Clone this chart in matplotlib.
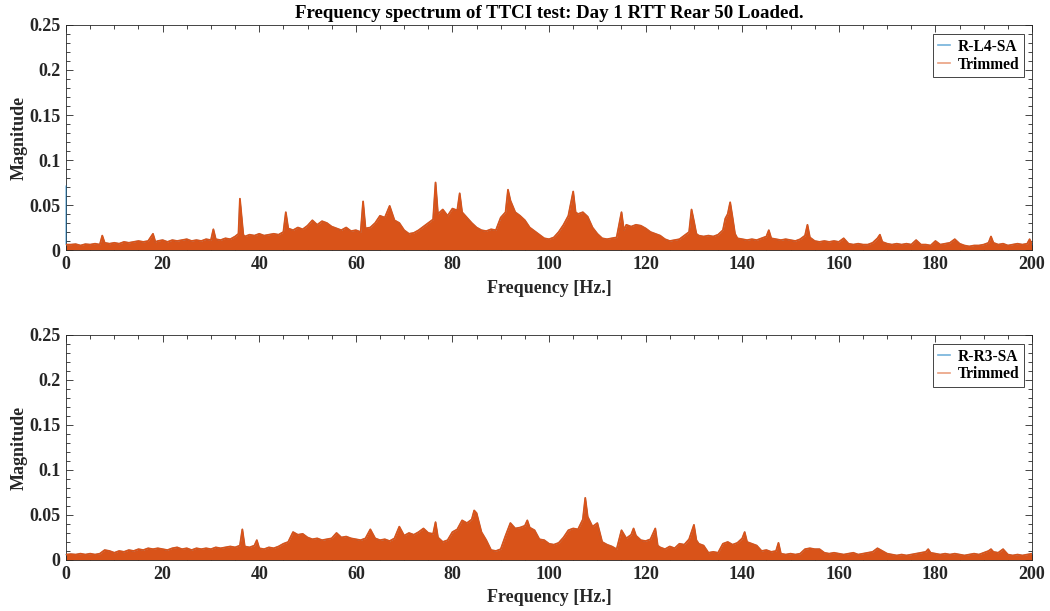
import matplotlib
matplotlib.use("Agg")
import matplotlib.pyplot as plt
from matplotlib.ticker import MultipleLocator

# ---------------- data ----------------
title_text = "Frequency spectrum of TTCI test: Day 1 RTT Rear 50 Loaded."
legend_top = ["R-L4-SA", "Trimmed"]
legend_bot = ["R-R3-SA", "Trimmed"]

top_freq = [0, 1, 2, 3, 4, 5, 6, 7, 7.5, 8, 9, 10, 11, 12, 13, 14, 15, 16, 17, 18, 18.5, 19,
            20, 21, 22, 23, 24, 25, 26, 27, 28, 29, 30, 30.5, 31, 32, 33, 34, 35, 35.7, 36.0,
            36.3, 36.7, 37, 38, 39, 40, 41, 42, 43, 44, 45, 45.5, 46, 47, 48, 49, 50, 51, 52,
            53, 54, 55, 56, 57, 58, 59, 60, 61, 61.5, 62, 63, 64, 65, 66, 67, 68, 69, 70, 71,
            72, 73, 74, 75, 76, 76.5, 77, 78, 79, 80, 81, 81.5, 82, 83, 84, 85, 86, 87, 88, 89,
            90, 91, 91.5, 92, 93, 94, 95, 96, 97, 98, 99, 100, 101, 102, 103, 104, 105, 105.5,
            106, 107, 108, 109, 110, 111, 112, 113, 114, 115, 115.5, 116, 117, 118, 119, 120,
            121, 122, 123, 124, 125, 126, 127, 128, 129, 129.5, 130, 130.5, 131, 132, 133, 134,
            135, 136, 136.5, 137, 137.5, 138, 138.5, 139, 140, 141, 142, 143, 144, 145, 145.5,
            146, 147, 148, 149, 150, 151, 152, 153, 153.5, 154, 155, 156, 157, 158, 159, 160,
            161, 162, 163, 164, 165, 166, 167, 168, 168.5, 169, 170, 171, 172, 173, 174, 175,
            176, 177, 178, 179, 180, 181, 182, 183, 184, 185, 186, 187, 188, 189, 190, 191,
            191.5, 192, 193, 194, 195, 196, 197, 198, 199, 199.5, 200]
top_mag = [0.006, 0.006, 0.0065, 0.005, 0.0065, 0.006, 0.007, 0.006, 0.016, 0.008, 0.007, 0.008,
           0.007, 0.009, 0.008, 0.009, 0.010, 0.009, 0.010, 0.018, 0.009, 0.010,
           0.011, 0.009, 0.011, 0.010, 0.011, 0.012, 0.010, 0.011, 0.010, 0.012, 0.011, 0.023,
           0.012, 0.011, 0.013, 0.012, 0.015, 0.018, 0.057,
           0.040, 0.017, 0.015, 0.017, 0.016, 0.018, 0.016, 0.017, 0.018, 0.017, 0.020, 0.042,
           0.024, 0.022, 0.025, 0.023, 0.027, 0.033, 0.028,
           0.032, 0.030, 0.026, 0.024, 0.022, 0.025, 0.021, 0.022, 0.020, 0.054, 0.024, 0.025,
           0.030, 0.038, 0.036, 0.049, 0.033, 0.030, 0.022, 0.018,
           0.019, 0.022, 0.026, 0.030, 0.034, 0.075, 0.040, 0.045, 0.038, 0.046, 0.044, 0.063,
           0.042, 0.036, 0.030, 0.025, 0.022, 0.021, 0.023, 0.022,
           0.036, 0.042, 0.067, 0.055, 0.042, 0.038, 0.033, 0.025, 0.021, 0.017, 0.013, 0.012,
           0.014, 0.020, 0.028, 0.038, 0.065, 0.042,
           0.040, 0.042, 0.037, 0.025, 0.018, 0.013, 0.012, 0.013, 0.014, 0.042, 0.022, 0.028,
           0.026, 0.028, 0.027, 0.024,
           0.020, 0.018, 0.016, 0.012, 0.010, 0.011, 0.012, 0.016, 0.020, 0.045, 0.032, 0.018,
           0.016, 0.015, 0.016, 0.015,
           0.017, 0.022, 0.035, 0.040, 0.053, 0.036, 0.018, 0.013, 0.012, 0.011, 0.012, 0.011,
           0.013, 0.015, 0.022,
           0.013, 0.012, 0.011, 0.012, 0.011, 0.010, 0.012, 0.016, 0.028, 0.014, 0.010, 0.009,
           0.010, 0.009, 0.010, 0.009,
           0.013, 0.007, 0.006, 0.007, 0.006, 0.006, 0.008, 0.013, 0.017, 0.009, 0.007, 0.006,
           0.007, 0.006, 0.007, 0.006,
           0.011, 0.006, 0.006, 0.005, 0.010, 0.006, 0.007, 0.008, 0.012, 0.007, 0.005, 0.004,
           0.005, 0.005, 0.006, 0.008,
           0.015, 0.008, 0.006, 0.007, 0.005, 0.006, 0.007, 0.006, 0.007, 0.012, 0.006]
top_raw_dc = 0.071  # DC value of the untrimmed R-L4-SA signal at 0 Hz

bot_freq = [0, 1, 2, 3, 4, 5, 6, 7, 8, 9, 10, 11, 12, 13, 14, 15, 16, 17, 18, 19, 20, 21, 22,
            23, 24, 25, 26, 27, 28, 29, 30, 31, 32, 33, 34, 35, 36, 36.5, 37, 38, 39, 39.5, 40,
            41, 42, 43, 44, 45, 46, 47, 48, 49, 50, 51, 52, 53, 54, 55, 56, 57, 58, 59, 60, 61,
            62, 63, 64, 65, 66, 67, 68, 69, 70, 71, 72, 73, 74, 75, 76, 76.5, 77, 78, 79, 80,
            81, 82, 83, 84, 84.5, 85, 86, 87, 88, 89, 90, 91, 92, 93, 94, 95, 95.5, 96, 97, 98,
            99, 100, 101, 102, 103, 104, 105, 106, 107, 107.5, 108, 109, 110, 111, 112, 113,
            114, 115, 116, 117, 117.5, 118, 119, 120, 121, 122, 122.5, 123, 124, 125, 126, 127,
            128, 129, 130, 130.5, 131, 132, 133, 134, 135, 136, 137, 138, 139, 140, 140.5, 141,
            142, 143, 144, 145, 146, 147, 147.5, 148, 149, 150, 151, 152, 153, 154, 155, 156,
            157, 158, 159, 160, 161, 162, 163, 164, 165, 166, 167, 168, 169, 170, 171, 172, 173,
            174, 175, 176, 177, 178, 178.5, 179, 180, 181, 182, 183, 184, 185, 186, 187, 188,
            189, 190, 191, 191.5, 192, 193, 194, 195, 196, 197, 198, 199, 200]
bot_mag = [0.006, 0.0065, 0.006, 0.007, 0.006, 0.007, 0.006, 0.007, 0.011, 0.010, 0.008, 0.010,
           0.009, 0.011, 0.010, 0.012, 0.011, 0.013, 0.012, 0.013, 0.012, 0.011, 0.013,
           0.014, 0.012, 0.013, 0.011, 0.013, 0.012, 0.013, 0.012, 0.014, 0.013, 0.014, 0.015,
           0.014, 0.016, 0.034, 0.015, 0.014, 0.016, 0.022, 0.013,
           0.012, 0.014, 0.013, 0.015, 0.018, 0.020, 0.031, 0.028, 0.029, 0.025, 0.023, 0.024,
           0.022, 0.023, 0.024, 0.030, 0.025, 0.026, 0.024, 0.023, 0.022,
           0.024, 0.034, 0.024, 0.022, 0.023, 0.021, 0.024, 0.037, 0.027, 0.030, 0.028, 0.031,
           0.035, 0.030, 0.029, 0.042, 0.025, 0.020, 0.022, 0.031,
           0.034, 0.044, 0.041, 0.045, 0.055, 0.052, 0.031, 0.022, 0.011, 0.010, 0.012, 0.027,
           0.041, 0.035, 0.036, 0.038, 0.044, 0.036, 0.033, 0.023,
           0.022, 0.018, 0.017, 0.019, 0.025, 0.033, 0.035, 0.034, 0.045, 0.069, 0.048, 0.037,
           0.041, 0.020, 0.017, 0.015,
           0.012, 0.033, 0.024, 0.028, 0.035, 0.027, 0.022, 0.021, 0.023, 0.035, 0.016, 0.014,
           0.012, 0.015, 0.013, 0.018,
           0.017, 0.023, 0.039, 0.022, 0.018, 0.016, 0.008, 0.009, 0.008, 0.018, 0.020, 0.017,
           0.019, 0.024, 0.031, 0.020,
           0.018, 0.016, 0.010, 0.011, 0.009, 0.010, 0.019, 0.007, 0.006, 0.007, 0.006, 0.007,
           0.012, 0.013, 0.012, 0.012,
           0.008, 0.007, 0.008, 0.007, 0.006, 0.007, 0.008, 0.006, 0.007, 0.008, 0.009, 0.013,
           0.010, 0.007, 0.006, 0.005, 0.006,
           0.005, 0.006, 0.007, 0.008, 0.009, 0.012, 0.008, 0.007, 0.006, 0.007, 0.006, 0.007,
           0.006, 0.005, 0.006, 0.007,
           0.006, 0.008, 0.010, 0.012, 0.009, 0.008, 0.012, 0.006, 0.005, 0.006, 0.005, 0.006,
           0.007]

x_ticks = [0, 20, 40, 60, 80, 100, 120, 140, 160, 180, 200]
y_ticks = [0, 0.05, 0.1, 0.15, 0.2, 0.25]
y_ticklabels = ["0", "0.05", "0.1", "0.15", "0.2", "0.25"]

# ---------------- style ----------------
BLUE = "#0072BD"
ORANGE = "#D95319"
AX = "#262626"
plt.rcParams["font.family"] = ["Liberation Serif", "DejaVu Serif"]
plt.rcParams["font.weight"] = "bold"
plt.rcParams["font.size"] = 13

fig = plt.figure(figsize=(10.5, 6.11), dpi=100)
ax_top = fig.add_axes([0.0629, 0.5908, 0.9200, 0.3683])
ax_bot = fig.add_axes([0.0629, 0.0835, 0.9200, 0.3683])


def style(ax):
    ax.set_xlim(0, 200)
    ax.set_ylim(0, 0.25)
    ax.set_xticks(x_ticks)
    ax.set_xticklabels([str(t) for t in x_ticks], fontweight="bold", color=AX)
    ax.set_yticks(y_ticks)
    ax.set_yticklabels(y_ticklabels, fontweight="bold", color=AX)
    ax.xaxis.set_minor_locator(MultipleLocator(5))
    ax.yaxis.set_minor_locator(MultipleLocator(0.01))
    ax.tick_params(which="both", direction="in", top=True, right=True, color=AX, width=0.6)
    ax.tick_params(which="major", length=5, pad=4)
    ax.tick_params(which="minor", length=3)
    for s in ax.spines.values():
        s.set_color(AX)
        s.set_linewidth(0.6)
    ax.set_xlabel("Frequency [Hz.]", fontweight="bold", color=AX, labelpad=5)
    ax.set_ylabel("Magnitude", fontweight="bold", color=AX, labelpad=1)


def draw(ax, raw_f, raw_m, f, m, labels):
    ax.plot(raw_f, raw_m, color=BLUE, lw=0.9, label=labels[0], zorder=4, clip_on=False,
            alpha=0.6)
    ax.fill_between(f, 0, m, color=ORANGE, lw=0, zorder=2)
    ax.plot(f, m, color=ORANGE, lw=1.3, label=labels[1], zorder=5)


# top panel
draw(ax_top, [0] + top_freq, [top_raw_dc] + top_mag, top_freq, top_mag, legend_top)
style(ax_top)
title = ax_top.set_title(title_text, fontweight="bold", color="black", fontsize=13, pad=5)

# bottom panel
draw(ax_bot, bot_freq, bot_mag, bot_freq, bot_mag, legend_bot)
style(ax_bot)

for ax in (ax_top, ax_bot):
    leg = ax.legend(loc="upper right", bbox_to_anchor=(0.9917, 0.96), fancybox=False,
                    framealpha=1, edgecolor=AX, handlelength=0.8, handletextpad=0.5,
                    borderpad=0.3, labelspacing=0.12, borderaxespad=0.0,
                    prop={"weight": "bold", "size": 11.2})
    leg.get_frame().set_linewidth(0.6)
    for h in leg.get_lines():
        h.set_alpha(0.55)
        h.set_linewidth(1.2)

# scale the title so that it spans about 506 px, as in the reference
fig.canvas.draw()
w = title.get_window_extent(fig.canvas.get_renderer()).width
title.set_fontsize(13 * 506.0 / w)

fig.savefig("out.png", dpi=100)
